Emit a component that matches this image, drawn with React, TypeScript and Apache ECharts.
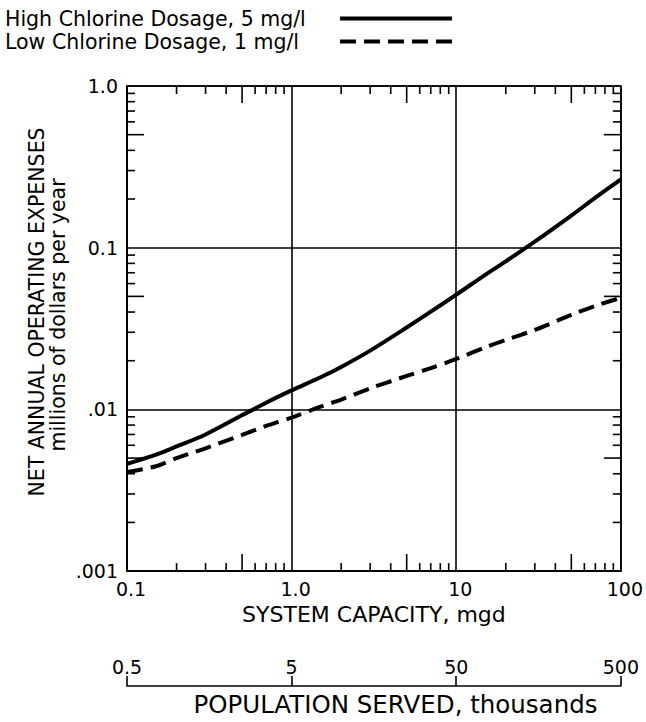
import React, { useEffect, useRef } from "react";
import * as echarts from "echarts";

// System capacity, mgd
const capacity = [0.1, 0.15, 0.2, 0.3, 0.5, 0.7, 1, 1.5, 2, 3, 5, 7, 10, 15, 20, 30, 50, 70, 100];
// Net annual operating expenses, millions of dollars per year
const highDosage = [0.0046, 0.00525, 0.0059, 0.007, 0.0092, 0.011, 0.0131, 0.0158, 0.0183, 0.0231, 0.0321, 0.0402, 0.0512, 0.068, 0.0824, 0.109, 0.158, 0.204, 0.265];
const lowDosage = [0.0041, 0.00445, 0.005, 0.00575, 0.00695, 0.0079, 0.0089, 0.0104, 0.0115, 0.0135, 0.0161, 0.018, 0.0205, 0.0242, 0.0269, 0.031, 0.0384, 0.0437, 0.049];

const seriesNames = ["High Chlorine Dosage, 5 mg/l", "Low Chlorine Dosage, 1 mg/l"];

const xTickValues = [0.1, 1, 10, 100];
const xTickLabels = ["0.1", "1.0", "10", "100"];
const yTickValues = [0.001, 0.01, 0.1, 1];
const yTickLabels = [".001", ".01", "0.1", "1.0"];
const populationTickLabels = ["0.5", "5", "50", "500"]; // thousands, at 0.1, 1, 10, 100 mgd

const minorMantissas = [2, 3, 4, 5, 6, 7, 8, 9];
const xDecades = [0.1, 1, 10];
const yDecades = [0.001, 0.01, 0.1];

const FONT = "DejaVu Sans";

function lookup(values: number[], labels: string[], v: number) {
  let best = 0;
  let bestD = Infinity;
  values.forEach((t, i) => {
    const d = Math.abs(Math.log10(t) - Math.log10(v));
    if (d < bestD) {
      bestD = d;
      best = i;
    }
  });
  return bestD < 0.01 ? labels[best] : "";
}

export default function App() {
  const ref = useRef<HTMLDivElement>(null);

  useEffect(() => {
    if (!ref.current) return;
    const chart = echarts.init(ref.current, undefined, { renderer: "svg" });

    // tick marks: [x, y, side] side 0 bottom,1 top,2 left,3 right
    const tickData: number[][] = [];
    xDecades.forEach((d) =>
      minorMantissas.forEach((m) => {
        tickData.push([d * m, 0.001, 0]);
        tickData.push([d * m, 1, 1]);
      })
    );
    yDecades.forEach((d) =>
      minorMantissas.forEach((m) => {
        tickData.push([0.1, d * m, 2]);
        tickData.push([100, d * m, 3]);
      })
    );

    const lineStyleBase = { color: "#000", width: 1.6 };
    const curveWidth = 4;
    const dash = [16, 8];
    const hiddenSymbol = { color: "rgba(0,0,0,0)", borderColor: "rgba(0,0,0,0)", borderWidth: 0, opacity: 0 };

    chart.setOption({
      animation: false,
      backgroundColor: "#fff",
      textStyle: { fontFamily: FONT, color: "#000" },
      grid: { left: 127, top: 86, width: 495, height: 492, show: true, borderColor: "#000", borderWidth: 1.6 },
      legend: {
        orient: "vertical",
        left: 5,
        top: 8,
        padding: 0,
        align: "right",
        itemGap: 2,
        itemWidth: 112,
        itemHeight: 14,
        itemStyle: hiddenSymbol,
        data: [
          { name: seriesNames[0], itemStyle: hiddenSymbol, lineStyle: { color: "#000", width: curveWidth, type: "solid" } },
          { name: seriesNames[1], itemStyle: hiddenSymbol, lineStyle: { color: "#000", width: curveWidth, type: dash } },
        ],
        formatter: (name: string) => `{t|${name}}`,
        textStyle: {
          rich: {
            t: { width: 330, align: "left", fontSize: 20.5, lineHeight: 22, fontFamily: FONT, color: "#000" },
          },
        },
      },
      xAxis: [
        {
          type: "log",
          logBase: 10,
          min: 0.1,
          max: 100,
          position: "bottom",
          name: "SYSTEM CAPACITY, mgd",
          nameLocation: "middle",
          nameGap: 31,
          nameTextStyle: { fontSize: 22, fontFamily: FONT, color: "#000" },
          axisLine: { show: true, lineStyle: lineStyleBase },
          axisTick: { show: false },
          splitLine: { show: true, lineStyle: lineStyleBase },
          minorTick: { show: false },
          axisLabel: {
            fontSize: 19,
            fontFamily: FONT,
            color: "#000",
            margin: 8,
            padding: [0, 0, 0, 8],
            showMinLabel: true,
            showMaxLabel: true,
            formatter: (v: number) => lookup(xTickValues, xTickLabels, v),
          },
        },
        {
          type: "log",
          logBase: 10,
          min: 0.1,
          max: 100,
          position: "bottom",
          offset: 115,
          name: "POPULATION SERVED, thousands",
          nameLocation: "middle",
          nameGap: 5,
          nameTextStyle: { fontSize: 24.5, fontFamily: FONT, color: "#000", padding: [0, 0, 0, 43] },
          axisLine: { show: true, lineStyle: lineStyleBase },
          axisTick: { show: true, inside: true, length: 10, lineStyle: lineStyleBase },
          splitLine: { show: false },
          axisLabel: {
            inside: true,
            fontSize: 19,
            fontFamily: FONT,
            color: "#000",
            margin: 10,
            showMinLabel: true,
            showMaxLabel: true,
            formatter: (v: number) => lookup(xTickValues, populationTickLabels, v),
          },
        },
      ],
      yAxis: {
        type: "log",
        logBase: 10,
        min: 0.001,
        max: 1,
        axisLine: { show: true, lineStyle: lineStyleBase },
        axisTick: { show: false },
        splitLine: { show: true, lineStyle: lineStyleBase },
        axisLabel: {
          fontSize: 19,
          fontFamily: FONT,
          color: "#000",
          margin: 9,
          showMinLabel: true,
          showMaxLabel: true,
          formatter: (v: number) => lookup(yTickValues, yTickLabels, v),
        },
      },
      graphic: [
        {
          type: "text",
          x: 37,
          y: 312,
          rotation: Math.PI / 2,
          style: {
            text: "NET ANNUAL OPERATING EXPENSES",
            fontSize: 20.5,
            fontFamily: FONT,
            fill: "#000",
            align: "center",
            verticalAlign: "middle",
          },
        },
        {
          type: "text",
          x: 58,
          y: 315,
          rotation: Math.PI / 2,
          style: {
            text: "millions of dollars per year",
            fontSize: 20.5,
            fontFamily: FONT,
            fill: "#000",
            align: "center",
            verticalAlign: "middle",
          },
        },
      ],
      series: [
        {
          name: seriesNames[0],
          type: "line",
          xAxisIndex: 0,
          data: capacity.map((c, i) => [c, highDosage[i]]),
          symbol: "none",
          smooth: 0.3,
          lineStyle: { color: "#000", width: curveWidth, type: "solid" },
          itemStyle: { color: "#000" },
        },
        {
          name: seriesNames[1],
          type: "line",
          xAxisIndex: 0,
          data: capacity.map((c, i) => [c, lowDosage[i]]),
          symbol: "none",
          smooth: 0.3,
          lineStyle: { color: "#000", width: curveWidth, type: dash },
          itemStyle: { color: "#000" },
        },
        {
          type: "custom",
          xAxisIndex: 0,
          silent: true,
          data: tickData,
          encode: { x: 0, y: 1 },
          renderItem: (params: any, api: any) => {
            const xv = api.value(0);
            const yv = api.value(1);
            const side = api.value(2);
            const v = side <= 1 ? xv : yv;
            const m = Math.round(v / Math.pow(10, Math.floor(Math.log10(v) + 1e-9)));
            const len = m === 5 ? 17 : 8;
            const p = api.coord([xv, yv]);
            let shape;
            if (side === 0) shape = { x1: p[0], y1: p[1], x2: p[0], y2: p[1] - len };
            else if (side === 1) shape = { x1: p[0], y1: p[1], x2: p[0], y2: p[1] + len };
            else if (side === 2) shape = { x1: p[0], y1: p[1], x2: p[0] + len, y2: p[1] };
            else shape = { x1: p[0], y1: p[1], x2: p[0] - len, y2: p[1] };
            return { type: "line", shape, style: { stroke: "#000", lineWidth: 1.6 } };
          },
        },
      ],
    });

    return () => chart.dispose();
  }, []);

  return <div ref={ref} style={{ position: "fixed", left: 0, top: 0, width: 646, height: 722 }} />;
}
